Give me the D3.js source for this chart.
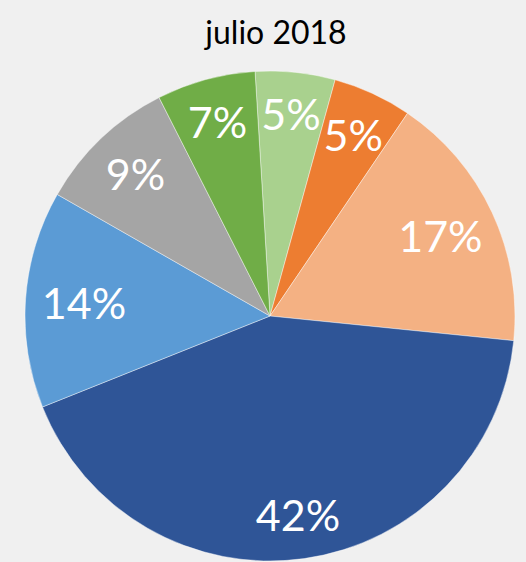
<!DOCTYPE html>
<html>
<head>
<meta charset="utf-8">
<script src="https://cdn.jsdelivr.net/npm/d3@7"></script>
<style>
  html, body { margin: 0; padding: 0; background: #f0f0f0; }
  svg { display: block; }
</style>
</head>
<body>
<div id="chart"></div>
<script>
// slice data, clockwise from the top
const categories = ["A", "B", "C", "D", "E", "F", "G"];
const values = [5.25, 5.2, 17.1, 42.3, 14.3, 9.25, 6.5];
const labels = ["5%", "5%", "17%", "42%", "14%", "9%", "7%"];
const colors = ["#a9d18e", "#ed7d31", "#f4b183", "#2f5597", "#5b9bd5", "#a5a5a5", "#70ad47"];
const title = "julio 2018";

const width = 526;
const height = 562;
const cx = 270, cy = 316, radius = 245;

const svg = d3.select("#chart")
    .append("svg")
    .attr("width", width)
    .attr("height", height);

svg.append("rect")
    .attr("width", width)
    .attr("height", height)
    .attr("fill", "#f0f0f0");

// Title
svg.append("text")
    .attr("x", 276)
    .attr("y", 44)
    .attr("text-anchor", "middle")
    .style("font-family", "Lato, 'Open Sans', sans-serif")
    .style("font-size", "32px")
    .style("fill", "#000")
    .text(title);

const startOffset = -3.5 * Math.PI / 180;
const pie = d3.pie()
    .sort(null)
    .value(d => d)
    .startAngle(startOffset)
    .endAngle(startOffset + 2 * Math.PI);

const arcs = pie(values);
const arc = d3.arc().innerRadius(0).outerRadius(radius);

const g = svg.append("g").attr("transform", `translate(${cx},${cy})`);

g.selectAll("path")
    .data(arcs)
    .enter()
    .append("path")
    .attr("d", arc)
    .attr("fill", (d, i) => colors[i])
    .attr("stroke", "#ffffff")
    .attr("stroke-opacity", 0.6)
    .attr("stroke-width", 0.7);

// Labels inside, near the outer edge
g.selectAll(".label")
    .data(arcs)
    .enter()
    .append("text")
    .attr("class", "label")
    .attr("text-anchor", "middle")
    .attr("dy", "0.36em")
    .style("font-family", "Lato, 'Open Sans', sans-serif")
    .style("font-size", "43px")
    .style("fill", "#fff")
    .text((d, i) => labels[i])
    .attr("transform", function (d) {
        const a = (d.startAngle + d.endAngle) / 2;
        const w = this.getComputedTextLength();
        const r = 0.83 * radius - 0.2 * w * Math.abs(Math.sin(a));
        return `translate(${r * Math.sin(a)},${-r * Math.cos(a)})`;
    });
</script>
</body>
</html>
